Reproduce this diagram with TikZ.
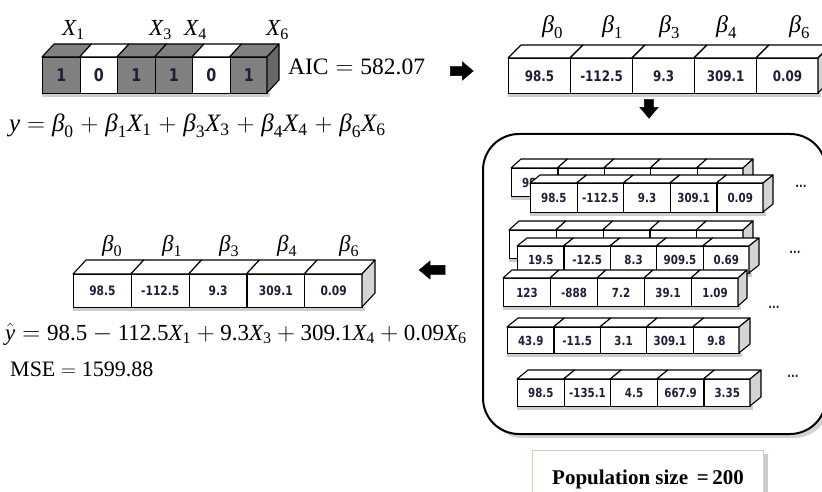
\documentclass[tikz,border=0pt]{standalone}
\usepackage{amsmath}
\usepackage{fontspec}
\setmainfont{Liberation Serif}
\newfontfamily\cellfont[FakeStretch=0.82]{DejaVu Sans}
\usetikzlibrary{shapes.arrows}
\definecolor{celltext}{HTML}{1E1E38}
\definecolor{bingray}{HTML}{808080}
\definecolor{binside}{HTML}{686868}
\definecolor{lightside}{HTML}{D4D4D4}
\definecolor{popborder}{HTML}{D6CEBC}
\def\cellsz{11}
\tikzset{
  cell/.style={draw, line width=1.1pt, inner sep=0pt, text=celltext,
    font=\cellfont\bfseries\fontsize{\cellsz}{\cellsz}\selectfont},
  facestyle/.style={draw, line width=1.1pt, line join=round},
  lbl/.style={inner sep=0pt, anchor=base west, font=\fontsize{23}{26}\selectfont},
  eqn/.style={inner sep=0pt, anchor=west, font=\fontsize{23}{26}\selectfont},
  blockarrow/.style={single arrow, fill=black, draw=black, inner sep=4.5pt,
    single arrow head extend=4.5pt, single arrow tip angle=80},
  dots/.style={inner sep=0pt, font=\cellfont\bfseries\fontsize{12}{12}\selectfont, text=celltext}
}
\newcommand\vX[1]{\textit{X}_{\text{#1}}}
\newcommand\vb[1]{\textit{β}_{\text{#1}}}
% #1 name, #2 x, #3 y (front top-left), #4 cell width, #5 height, #6 depth dx, #7 depth dy, #8 side colour, #9 list value/colour
\newcommand\cubebar[9]{%
  \foreach \v/\c [count=\i] in {#9} {%
    \pgfmathsetmacro\xa{#2+(\i-1)*(#4)}%
    \fill[black!50,opacity=.4] (\xa+3,#3+#5) rectangle (\xa+#4+3,#3+#5+4);
  }%
  \fill[black!50,opacity=.4] (#2,#3+#5) rectangle (#2+3,#3+#5+4);
  \foreach \v/\c [count=\i] in {#9} {%
    \pgfmathsetmacro\xa{#2+(\i-1)*(#4)}%
    \pgfmathsetmacro\xb{#2+\i*(#4)}%
    \filldraw[facestyle, fill=\c] (\xa,#3) -- ++(#6,-#7) -- (\xb+#6,#3-#7) -- (\xb,#3) -- cycle;
    \node[cell, fill=\c, minimum width=#4, minimum height=#5, anchor=north west] (#1-\i) at (\xa,#3) {\v};
    \xdef\barend{\xb}%
  }%
  \filldraw[facestyle, fill=#8] (\barend,#3) -- ++(#6,-#7) -- ++(0,#5) -- ++(-#6,#7) -- cycle;
}
\begin{document}
\begin{tikzpicture}[x=1pt,y=-1pt]
\useasboundingbox (0,0) rectangle (822,492);
\clip (0,0) rectangle (822,492);

% ---------- top-left binary chromosome ----------
\node[lbl] (x1) at (62,36) {$\vX{1}$};
\node[lbl] (x3) at (149,36) {$\vX{3}$};
\node[lbl] (x4) at (184,36) {$\vX{4}$};
\node[lbl] (x6) at (266,36) {$\vX{6}$};
\def\cellsz{17.5}
\cubebar{bin}{42}{57}{37.5}{36}{12}{13}{binside}{1/bingray,0/white,1/bingray,1/bingray,0/white,1/bingray}
\node[eqn, font=\fontsize{23.5}{26}\selectfont] (aic) at (288,67) {$\text{AIC} = \text{582.07}$};
\node[blockarrow, minimum height=23pt] (arrR) at (459,71) {};
\node[eqn, font=\fontsize{25}{28}\selectfont] (yeq) at (9,126)
  {\medmuskip=5mu plus 2mu$\textit{y} = \vb{0} + \vb{1}\vX{1} + \vb{3}\vX{3} + \vb{4}\vX{4} + \vb{6}\vX{6}$};

% ---------- top-right coefficient chromosome ----------
\node[lbl, font=\fontsize{24}{26}\selectfont] (tb0) at (542,33) {$\vb{0}$};
\node[lbl, font=\fontsize{24}{26}\selectfont] (tb1) at (602,33) {$\vb{1}$};
\node[lbl, font=\fontsize{24}{26}\selectfont] (tb3) at (659,33) {$\vb{3}$};
\node[lbl, font=\fontsize{24}{26}\selectfont] (tb4) at (716,33) {$\vb{4}$};
\node[lbl, font=\fontsize{24}{26}\selectfont] (tb6) at (789,33) {$\vb{6}$};
\def\cellsz{14.5}
\cubebar{tr}{508}{58}{62}{35}{13}{13}{lightside}{98.5/white,-112.5/white,9.3/white,309.1/white,0.09/white}
\node[blockarrow, minimum height=19pt, shape border rotate=270] (arrD) at (649,106) {};

% ---------- population panel ----------
\fill[black!50,opacity=.35,rounded corners=36pt] (487,138) rectangle (830,438);
\draw[line width=2pt, fill=white, rounded corners=36pt] (483,134) rectangle (826,434);
\def\cellsz{12.5}
\cubebar{p1b}{511}{168}{46.4}{28}{10}{9}{lightside}{98.5/white,/white,/white,/white,/white}
\cubebar{p1}{530}{183}{46.6}{29}{10}{8}{lightside}{98.5/white,-112.5/white,9.3/white,309.1/white,0.09/white}
\cubebar{p2b}{509}{230}{46.8}{28}{10}{9}{lightside}{/white,/white,/white,/white,/white}
\cubebar{p2}{517}{246}{46.4}{27}{10}{8}{lightside}{19.5/white,-12.5/white,8.3/white,909.5/white,0.69/white}
\cubebar{p3}{503}{278}{47}{28}{9}{8}{lightside}{123/white,-888/white,7.2/white,39.1/white,1.09/white}
\cubebar{p4}{507}{327}{46.4}{26}{11}{9}{lightside}{43.9/white,-11.5/white,3.1/white,309.1/white,9.8/white}
\cubebar{p5}{517}{379}{46.6}{27}{11}{9}{lightside}{98.5/white,-135.1/white,4.5/white,667.9/white,3.35/white}
\node[dots] (d1) at (801,186) {...};
\node[dots] (d2) at (795,252) {...};
\node[dots] (d3) at (774,307) {...};
\node[dots] (d4) at (793,376) {...};

% ---------- population size ----------
\fill[black!40,opacity=.5] (536,454) rectangle (768,500);
\node[draw=popborder, fill=white, line width=1pt, minimum width=231pt, minimum height=60pt,
  anchor=north west, inner sep=0pt] (popbox) at (532,450) {};
\node[inner sep=0pt, font=\bfseries\fontsize{21}{24}\selectfont] (poptext) at (648,479)
  {Population size \,=\,200};

% ---------- bottom-left best solution ----------
\node[lbl] (bb0) at (102,251) {$\vb{0}$};
\node[lbl] (bb1) at (162,251) {$\vb{1}$};
\node[lbl] (bb3) at (219,251) {$\vb{3}$};
\node[lbl] (bb4) at (277,251) {$\vb{4}$};
\node[lbl] (bb6) at (339,251) {$\vb{6}$};
\def\cellsz{13}
\cubebar{bl}{73}{274}{57.8}{33}{13}{14}{lightside}{98.5/white,-112.5/white,9.3/white,309.1/white,0.09/white}
\node[blockarrow, minimum height=26pt, shape border rotate=180] (arrL) at (435,270) {};
\node[eqn, font=\fontsize{23}{26}\selectfont] (yhat) at (5,334)
  {$\hat{\textit{y}} = \text{98.5} - \text{112.5}\vX{1} + \text{9.3}\vX{3} + \text{309.1}\vX{4} + \text{0.09}\vX{6}$};
\node[eqn, font=\fontsize{22}{26}\selectfont] (mse) at (10,369) {$\text{MSE} = \text{1599.88}$};
\end{tikzpicture}
\end{document}
